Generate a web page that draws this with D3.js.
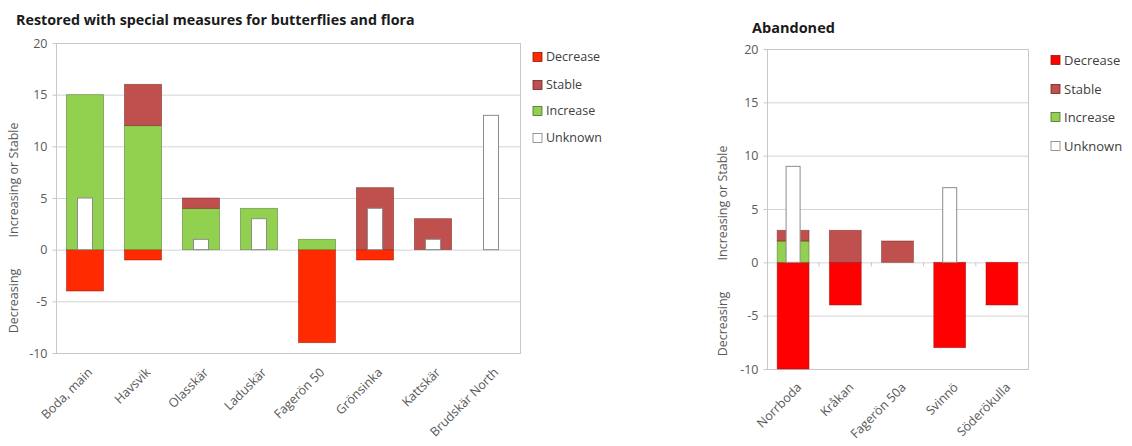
<!DOCTYPE html>
<html>
<head>
<meta charset="utf-8">
<script src="https://cdn.jsdelivr.net/npm/d3@7/dist/d3.min.js"></script>
<style>
  html, body { margin: 0; padding: 0; background: #fff; }
  svg { display: block; font-family: "Open Sans", "Noto Sans", sans-serif; }
</style>
</head>
<body>
<svg id="chart" width="1132" height="446"></svg>
<script>
// ---- Data: Restored with special measures ----
const leftCategories = ["Boda, main", "Havsvik", "Olasskär", "Laduskär", "Fagerön 50", "Grönsinka", "Kattskär", "Brudskär North"];
const leftDecrease = [-4, -1, 0, 0, -9, -1, 0, 0];
const leftIncrease = [15, 12, 4, 4, 1, 0, 0, 0];
const leftStable   = [0, 4, 1, 0, 0, 6, 3, 0];
const leftUnknown  = [5, 0, 1, 3, 0, 4, 1, 13];

// ---- Data: Abandoned ----
const rightCategories = ["Norrboda", "Kråkan", "Fagerön 50a", "Svinnö", "Söderökulla"];
const rightDecrease = [-10, -4, 0, -8, -4];
const rightIncrease = [2, 0, 0, 0, 0];
const rightStable   = [1, 3, 2, 0, 0];
const rightUnknown  = [9, 0, 0, 7, 0];

const yTicks = [-10, -5, 0, 5, 10, 15, 20];
const legendLabels = ["Decrease", "Stable", "Increase", "Unknown"];

const svg = d3.select("#chart");

function drawChart(cfg) {
  const g = svg.append("g");
  const x = d3.scaleBand().domain(cfg.categories).range([cfg.x0, cfg.x1])
    .paddingInner(cfg.padIn).paddingOuter(cfg.padIn / 2);
  const y = d3.scaleLinear().domain([-10, 20]).range([cfg.y0, cfg.y1]);

  // gridlines
  g.append("g").selectAll("line").data(yTicks).join("line")
    .attr("x1", cfg.x0).attr("x2", cfg.x1)
    .attr("y1", d => y(d) + 0.5).attr("y2", d => y(d) + 0.5)
    .attr("stroke", "#d4d4d4").attr("stroke-width", 1);
  // plot border
  g.append("rect").attr("x", cfg.x0 + 0.5).attr("y", y(20) + 0.5)
    .attr("width", cfg.x1 - cfg.x0).attr("height", y(-10) - y(20))
    .attr("fill", "none").attr("stroke", "#c8c8c8");

  // y axis labels
  const yAxis = d3.axisLeft(y).tickValues(yTicks).tickSize(4).tickPadding(5).tickFormat(d => String(d));
  const ya = g.append("g").attr("transform", `translate(${cfg.x0 + 0.5},0)`).call(yAxis);
  ya.select(".domain").remove();
  ya.selectAll(".tick line").attr("stroke", "#c8c8c8");
  ya.selectAll("text").attr("fill", "#595959").style("font-size", cfg.tickSize)
    .style("font-family", "'Open Sans', sans-serif");

  // small category ticks on zero line (right chart)
  if (cfg.zeroTicks) {
    const bounds = cfg.categories.slice(1).map(c => x(c) - x.step() * x.paddingInner() / 2);
    g.append("g").selectAll("line").data(bounds).join("line")
      .attr("x1", d => d).attr("x2", d => d)
      .attr("y1", y(0)).attr("y2", y(0) + 4)
      .attr("stroke", "#c8c8c8");
  }

  const bw = x.bandwidth();
  const bars = g.append("g");
  cfg.categories.forEach((c, i) => {
    const bx = x(c);
    if (cfg.dec[i] < 0) {
      bars.append("rect").attr("x", bx).attr("width", bw)
        .attr("y", y(0)).attr("height", y(cfg.dec[i]) - y(0))
        .attr("fill", cfg.decColor).attr("stroke", "#8b1a10").attr("stroke-width", 0.8).attr("stroke-opacity", 0.6);
    }
    if (cfg.inc[i] > 0) {
      bars.append("rect").attr("x", bx).attr("width", bw)
        .attr("y", y(cfg.inc[i])).attr("height", y(0) - y(cfg.inc[i]))
        .attr("fill", "#92d050").attr("stroke", "#4f6b2e").attr("stroke-width", 0.8).attr("stroke-opacity", 0.6);
    }
    if (cfg.sta[i] > 0) {
      const base = cfg.inc[i];
      bars.append("rect").attr("x", bx).attr("width", bw)
        .attr("y", y(base + cfg.sta[i])).attr("height", y(base) - y(base + cfg.sta[i]))
        .attr("fill", "#c0504d").attr("stroke", "#6e2422").attr("stroke-width", 0.8).attr("stroke-opacity", 0.6);
    }
    if (cfg.unk[i] > 0) {
      const uw = cfg.unkWidth;
      bars.append("rect").attr("x", bx + bw / 2 - uw / 2).attr("width", uw)
        .attr("y", y(cfg.unk[i])).attr("height", y(0) - y(cfg.unk[i]))
        .attr("fill", "#ffffff").attr("stroke", "#8c8c8c").attr("stroke-width", 1);
    }
  });

  // category labels
  g.append("g").selectAll("text").data(cfg.categories).join("text")
    .attr("transform", d => `translate(${x(d) + bw / 2 + cfg.labelDx},${cfg.y0 + cfg.labelOffset}) rotate(-45)`)
    .attr("text-anchor", "end").attr("dy", "0.7em")
    .attr("fill", "#595959").style("font-size", cfg.catSize)
    .text(d => d);

  // y-axis titles
  g.append("text").attr("transform", `translate(${cfg.ytitleX},${cfg.incTitleY}) rotate(-90)`)
    .attr("text-anchor", "middle").attr("fill", "#595959").style("font-size", "12.5px")
    .text("Increasing or Stable");
  g.append("text").attr("transform", `translate(${cfg.ytitleX},${cfg.decTitleY}) rotate(-90)`)
    .attr("text-anchor", "middle").attr("fill", "#595959").style("font-size", "12.5px")
    .text("Decreasing");

  // title
  g.append("text").attr("x", cfg.titleX).attr("y", cfg.titleY)
    .attr("fill", "#1a1a1a").style("font-size", cfg.titleSize).style("font-weight", "700")
    .text(cfg.title);

  // legend
  const colors = [cfg.decColor, "#c0504d", "#92d050", "#ffffff"];
  const strokes = ["#8b1a10", "#6e2422", "#4f6b2e", "#7f7f7f"];
  const lg = g.append("g");
  legendLabels.forEach((l, i) => {
    const ly = cfg.legendY[i];
    lg.append("rect").attr("x", cfg.legendX).attr("y", ly - 4.5).attr("width", 9).attr("height", 9)
      .attr("fill", colors[i]).attr("stroke", strokes[i]).attr("stroke-width", 0.8);
    lg.append("text").attr("x", cfg.legendX + cfg.legendGap).attr("y", ly).attr("dy", "0.35em")
      .attr("fill", "#404040").style("font-size", cfg.legendSize).text(l);
  });
}

drawChart({
  categories: leftCategories, dec: leftDecrease, inc: leftIncrease, sta: leftStable, unk: leftUnknown,
  x0: 56, x1: 520, y0: 353, y1: 43, padIn: 0.36, unkWidth: 15, decColor: "#ff2a00",
  labelOffset: 14, labelDx: 2, ytitleX: 18, incTitleY: 180, decTitleY: 301,
  tickSize: "12.5px", catSize: "12.5px",
  title: "Restored with special measures for butterflies and flora", titleX: 16, titleY: 25, titleSize: "14.3px",
  legendX: 533, legendGap: 13, legendSize: "12.5px",
  legendY: [57, 85, 111, 138], zeroTicks: false
});

drawChart({
  categories: rightCategories, dec: rightDecrease, inc: rightIncrease, sta: rightStable, unk: rightUnknown,
  x0: 767, x1: 1028, y0: 369, y1: 49, padIn: 0.39, unkWidth: 14, decColor: "#ff0000",
  labelOffset: 13, labelDx: 3, ytitleX: 727, incTitleY: 203, decTitleY: 324,
  tickSize: "12.5px", catSize: "12.5px",
  title: "Abandoned", titleX: 752, titleY: 33, titleSize: "14.5px",
  legendX: 1051, legendGap: 13, legendSize: "13px",
  legendY: [60, 89, 117, 146], zeroTicks: true
});
</script>
</body>
</html>
